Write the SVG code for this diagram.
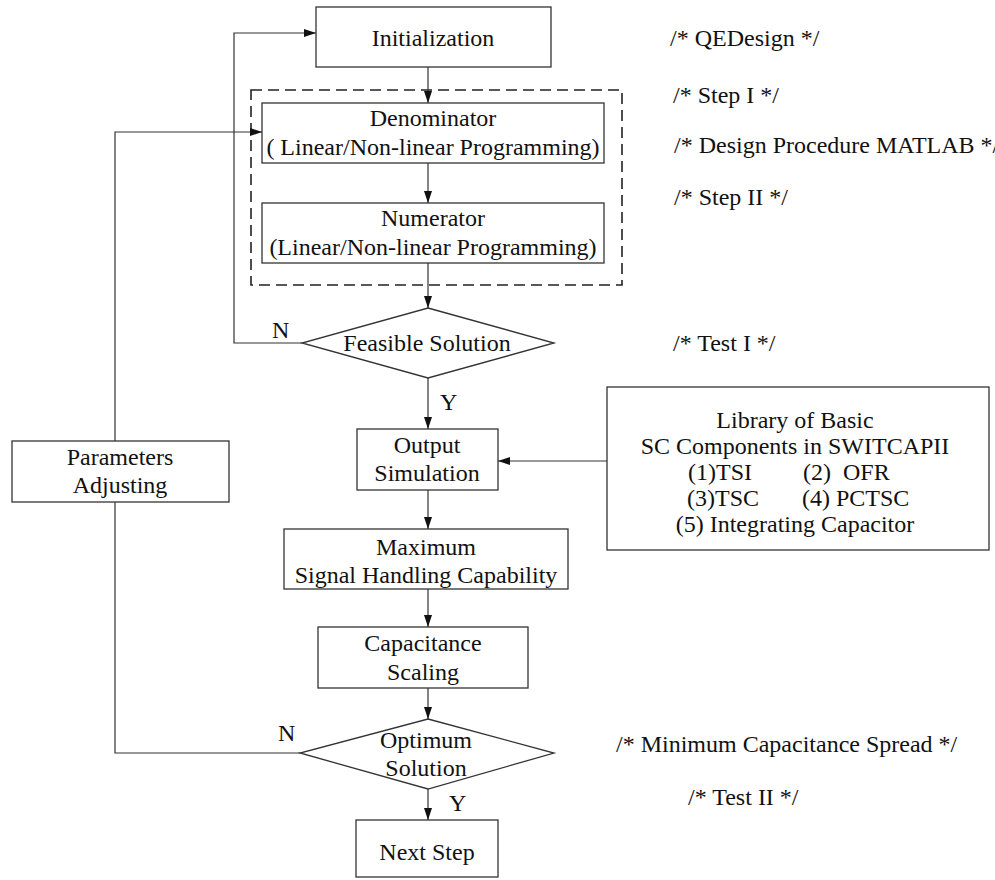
<svg xmlns="http://www.w3.org/2000/svg" width="995" height="880" viewBox="0 0 995 880">
<style>
.box{fill:#fff;stroke:#333;stroke-width:1.3}
.t{font-family:"Liberation Serif","Times New Roman",serif;font-size:24px;fill:#111;text-anchor:middle}
.l{font-family:"Liberation Serif","Times New Roman",serif;font-size:24px;fill:#111}
.c{fill:none;stroke:#333;stroke-width:1.2}
</style>
<defs>
<marker id="ah" markerWidth="13" markerHeight="10" refX="12" refY="4" orient="auto" markerUnits="userSpaceOnUse">
<path d="M0,0 L12,4 L0,8 Z" fill="#111"/>
</marker>
</defs>
<rect width="995" height="880" fill="#fff"/>

<g id="group-design">
<rect x="251" y="90" width="371" height="195" fill="none" stroke="#222" stroke-width="1.6" stroke-dasharray="11,6"/>
</g>

<g id="connectors">
<line class="c" x1="428" y1="67" x2="428" y2="103" marker-end="url(#ah)"/>
<line class="c" x1="428" y1="163" x2="428" y2="203" marker-end="url(#ah)"/>
<line class="c" x1="428" y1="263" x2="428" y2="308" marker-end="url(#ah)"/>
<line class="c" x1="428" y1="378" x2="428" y2="429" marker-end="url(#ah)"/>
<polyline class="c" points="302,343 234,343 234,33 316,33" marker-end="url(#ah)"/>
<line class="c" x1="607" y1="461" x2="498" y2="461" marker-end="url(#ah)"/>
<line class="c" x1="428" y1="490" x2="428" y2="529" marker-end="url(#ah)"/>
<line class="c" x1="428" y1="589" x2="428" y2="627" marker-end="url(#ah)"/>
<line class="c" x1="428" y1="688" x2="428" y2="719" marker-end="url(#ah)"/>
<line class="c" x1="428" y1="789" x2="428" y2="820" marker-end="url(#ah)"/>
<polyline class="c" points="300,753 115,753 115,502"/>
<polyline class="c" points="115,441 115,132 262,132" marker-end="url(#ah)"/>
<text class="l" x="272" y="338">N</text>
<text class="l" x="440" y="410">Y</text>
<text class="l" x="278" y="741">N</text>
<text class="l" x="449" y="811">Y</text>
</g>

<g id="initialization">
<rect class="box" x="316" y="7" width="235" height="60"/>
<text class="t" x="433" y="46">Initialization</text>
</g>

<g id="denominator">
<rect class="box" x="262" y="103" width="342" height="60"/>
<text class="t" x="433" y="126">Denominator</text>
<text class="t" x="433" y="155">( Linear/Non-linear Programming)</text>
</g>

<g id="numerator">
<rect class="box" x="262" y="203" width="342" height="60"/>
<text class="t" x="433" y="226">Numerator</text>
<text class="t" x="433" y="255">(Linear/Non-linear Programming)</text>
</g>

<g id="feasible">
<polygon class="box" points="428,308 554,343 428,378 302,343"/>
<text class="t" x="427" y="351">Feasible Solution</text>
</g>

<g id="output-sim">
<rect class="box" x="357" y="429" width="141" height="61"/>
<text class="t" x="427" y="453">Output</text>
<text class="t" x="427" y="481">Simulation</text>
</g>

<g id="library">
<rect class="box" x="607" y="387" width="382" height="163"/>
<text class="t" x="795" y="428">Library of Basic</text>
<text class="t" x="795" y="454">SC Components in SWITCAPII</text>
<text class="l" x="688" y="480">(1)TSI</text>
<text class="l" x="803" y="480" xml:space="preserve">(2)  OFR</text>
<text class="l" x="687" y="506">(3)TSC</text>
<text class="l" x="802" y="506">(4) PCTSC</text>
<text class="t" x="795" y="532">(5) Integrating Capacitor</text>
</g>

<g id="params">
<rect class="box" x="12" y="441" width="217" height="61"/>
<text class="t" x="120" y="465">Parameters</text>
<text class="t" x="120" y="493">Adjusting</text>
</g>

<g id="maximum">
<rect class="box" x="284" y="529" width="284" height="60"/>
<text class="t" x="426" y="555">Maximum</text>
<text class="t" x="426" y="583">Signal Handling Capability</text>
</g>

<g id="capacitance">
<rect class="box" x="318" y="627" width="210" height="61"/>
<text class="t" x="423" y="651">Capacitance</text>
<text class="t" x="423" y="680">Scaling</text>
</g>

<g id="optimum">
<polygon class="box" points="428,719 554,753 428,789 300,753"/>
<text class="t" x="426" y="748">Optimum</text>
<text class="t" x="426" y="776">Solution</text>
</g>

<g id="next-step">
<rect class="box" x="356" y="820" width="142" height="57"/>
<text class="t" x="427" y="860">Next Step</text>
</g>

<g id="annotations">
<text class="l" x="670" y="46">/* QEDesign */</text>
<text class="l" x="673" y="103">/* Step I */</text>
<text class="l" x="674" y="153">/* Design Procedure MATLAB */</text>
<text class="l" x="674" y="205">/* Step II */</text>
<text class="l" x="673" y="351">/* Test I */</text>
<text class="l" x="616" y="752">/* Minimum Capacitance Spread */</text>
<text class="l" x="688" y="805">/* Test II */</text>
</g>
</svg>
